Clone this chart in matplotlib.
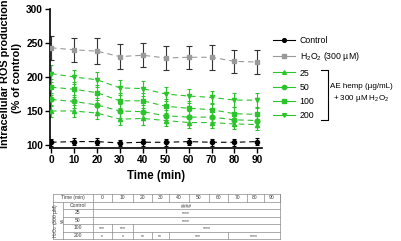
import matplotlib
matplotlib.use("Agg")
import matplotlib.pyplot as plt
from matplotlib.lines import Line2D

plt.rcParams['font.family'] = ['Liberation Sans', 'DejaVu Sans']
plt.rcParams['mathtext.fontset'] = 'custom'
plt.rcParams['mathtext.rm'] = 'Liberation Sans'
plt.rcParams['mathtext.it'] = 'Liberation Sans:italic'
plt.rcParams['mathtext.bf'] = 'Liberation Sans:bold'

# ---------------- data ----------------
time = [0, 10, 20, 30, 40, 50, 60, 70, 80, 90]
control = [104, 105, 105, 103, 104, 104, 105, 104, 104, 105]
control_err = [5, 5, 5, 5, 5, 5, 5, 5, 5, 5]
h2o2 = [243, 240, 238, 230, 232, 228, 229, 229, 223, 222]
h2o2_err = [18, 18, 19, 18, 18, 17, 17, 18, 17, 17]
ae25 = [150, 150, 147, 138, 139, 136, 133, 133, 131, 130]
ae25_err = [9, 9, 9, 9, 9, 8, 8, 8, 8, 8]
ae50 = [167, 164, 159, 150, 149, 143, 141, 141, 137, 136]
ae50_err = [10, 10, 10, 10, 10, 9, 9, 9, 9, 9]
ae100 = [185, 182, 177, 165, 165, 157, 154, 152, 146, 145]
ae100_err = [12, 11, 11, 11, 11, 10, 10, 10, 10, 10]
ae200 = [205, 200, 196, 184, 183, 175, 172, 170, 166, 166]
ae200_err = [12, 11, 11, 11, 11, 10, 10, 10, 10, 10]

legend_labels = ["Control", "H$_2$O$_2$ (300 µM)", "25", "50", "100", "200"]

# significance table
table_times = [0, 10, 20, 30, 40, 50, 60, 70, 80, 90]
table_rows = ["Control", "25", "50", "100", "200"]
# each entry: (first column index, last column index, text)
table_cells = {
    "Control": [(0, 9, "####")],
    "25": [(0, 9, "****")],
    "50": [(0, 9, "****")],
    "100": [(0, 0, "***"), (1, 1, "***"), (2, 9, "****")],
    "200": [(0, 0, "*"), (1, 1, "*"), (2, 2, "**"), (3, 3, "**"),
            (4, 6, "***"), (7, 9, "****")],
}

# ---------------- figure ----------------
W, H = 401, 241
fig = plt.figure(figsize=(W / 100, H / 100), dpi=100)

ax = fig.add_axes([50 / W, 1 - 148.4 / H, 212 / W, (148.4 - 9) / H])

green = '#2bc42b'
series = [
    (control, control_err, dict(color='black', marker='o', ms=3.0), 'black', 1.2),
    (h2o2, h2o2_err, dict(color='#9a9a9a', marker='s', ms=3.2), '#333333', 2.0),
    (ae25, ae25_err, dict(color=green, marker='^', ms=3.0), green, 1.4),
    (ae50, ae50_err, dict(color=green, marker='o', ms=3.4), green, 1.4),
    (ae100, ae100_err, dict(color=green, marker='s', ms=3.4), green, 1.4),
    (ae200, ae200_err, dict(color=green, marker='v', ms=3.0), green, 1.4),
]
handles = []
for vals, errs, st, ecol, cap in series:
    ax.errorbar(time, vals, yerr=errs, fmt='none', ecolor=ecol,
                elinewidth=0.8, capsize=cap, capthick=0.8, zorder=2)
    ax.plot(time, vals, linestyle=(0, (5, 3.5)), lw=0.8, color=st['color'],
            marker=st['marker'], ms=st['ms'], mec=st['color'], mfc=st['color'],
            zorder=3)
    handles.append(Line2D([], [], color=st['color'], lw=0.8,
                          marker=st['marker'], ms=st['ms'] * 0.9,
                          mec=st['color'], mfc=st['color']))

ax.set_xlim(-0.44, 92)
ax.set_ylim(95, 300)
ax.set_xticks(time)
ax.set_yticks([100, 150, 200, 250, 300])
for s in ['top', 'right']:
    ax.spines[s].set_visible(False)
for s in ['left', 'bottom']:
    ax.spines[s].set_linewidth(1.2)
ax.tick_params(axis='both', length=3.5, width=1.0, pad=1.5, labelsize=7.3)
for lab in ax.get_xticklabels() + ax.get_yticklabels():
    lab.set_fontweight('bold')

ax.set_xlabel("Time (min)", fontsize=8.3, fontweight='bold', labelpad=3)

fig.text(5.5 / W, 1 - 74 / H, "Intracellular ROS production", rotation=90,
         ha='center', va='center', fontsize=7.8, fontweight='bold')
fig.text(16.5 / W, 1 - 78 / H, "(% of control)", rotation=90,
         ha='center', va='center', fontsize=7.8, fontweight='bold')

leg = fig.legend(handles, legend_labels, loc='upper left',
                 bbox_to_anchor=(269 / W, 1 - 32.5 / H), frameon=False,
                 fontsize=6.3, handlelength=2.6, handletextpad=0.5,
                 labelspacing=0.6, borderaxespad=0)

# bracket
ov = fig.add_axes([0, 0, 1, 1], facecolor='none')
ov.set_xlim(0, W)
ov.set_ylim(H, 0)
ov.axis('off')
ov.plot([321, 328, 328, 321], [70, 70, 120, 120], color='black', lw=0.8)
ov.text(361, 87, "AE hemp (µg/mL)", ha='center', va='center', fontsize=5.8)
ov.text(361, 99, "+ 300 µM H$_2$O$_2$", ha='center', va='center', fontsize=5.8)

# ---------------- table ----------------
col_x = [92.5, 112, 133, 152, 168.5, 189, 208.5, 228, 246.5, 263.5, 280]
left_x, group_x = 52.5, 63.3
row_y = [194, 201.5, 209, 216.5, 224, 231.5, 239]
lc = '#8a8a8a'
tc = '#3a3a3a'
tlw = 0.5
fs_t = 3.6
# outer/horizontal lines
ov.plot([left_x, col_x[-1]], [row_y[0], row_y[0]], color=lc, lw=tlw)
ov.plot([left_x, col_x[-1]], [row_y[1], row_y[1]], color=lc, lw=tlw)
for y in row_y[2:]:
    ov.plot([group_x, col_x[-1]], [y, y], color=lc, lw=tlw)
ov.plot([left_x, group_x], [row_y[-1], row_y[-1]], color=lc, lw=tlw)
ov.plot([left_x, left_x], [row_y[0], row_y[-1]], color=lc, lw=tlw)
ov.plot([group_x, group_x], [row_y[1], row_y[-1]], color=lc, lw=tlw)
ov.plot([col_x[0], col_x[0]], [row_y[0], row_y[-1]], color=lc, lw=tlw)
ov.plot([col_x[-1], col_x[-1]], [row_y[0], row_y[-1]], color=lc, lw=tlw)
# header
ov.text((left_x + col_x[0]) / 2, (row_y[0] + row_y[1]) / 2, "Time (min)",
        ha='center', va='center', fontsize=fs_t, color=tc)
for i, t in enumerate(table_times):
    ov.plot([col_x[i + 1], col_x[i + 1]], [row_y[0], row_y[1]], color=lc, lw=tlw)
    ov.text((col_x[i] + col_x[i + 1]) / 2, (row_y[0] + row_y[1]) / 2, str(t),
            ha='center', va='center', fontsize=fs_t, color=tc)
ov.text((left_x + group_x) / 2, (row_y[1] + row_y[-1]) / 2,
        "H$_2$O$_2$ (300 µM)\nvs", rotation=90, ha='center', va='center',
        fontsize=fs_t, color=tc, linespacing=1.1)
for r, name in enumerate(table_rows):
    y0, y1 = row_y[r + 1], row_y[r + 2]
    ov.text((group_x + col_x[0]) / 2, (y0 + y1) / 2, name, ha='center',
            va='center', fontsize=fs_t, color=tc)
    for a, b, txt in table_cells[name]:
        if b < len(table_times) - 1:
            ov.plot([col_x[b + 1], col_x[b + 1]], [y0, y1], color=lc, lw=tlw)
        ov.text((col_x[a] + col_x[b + 1]) / 2, (y0 + y1) / 2 + 0.8, txt,
                ha='center', va='center', fontsize=fs_t, color=tc)

fig.savefig("out.png", dpi=100)
